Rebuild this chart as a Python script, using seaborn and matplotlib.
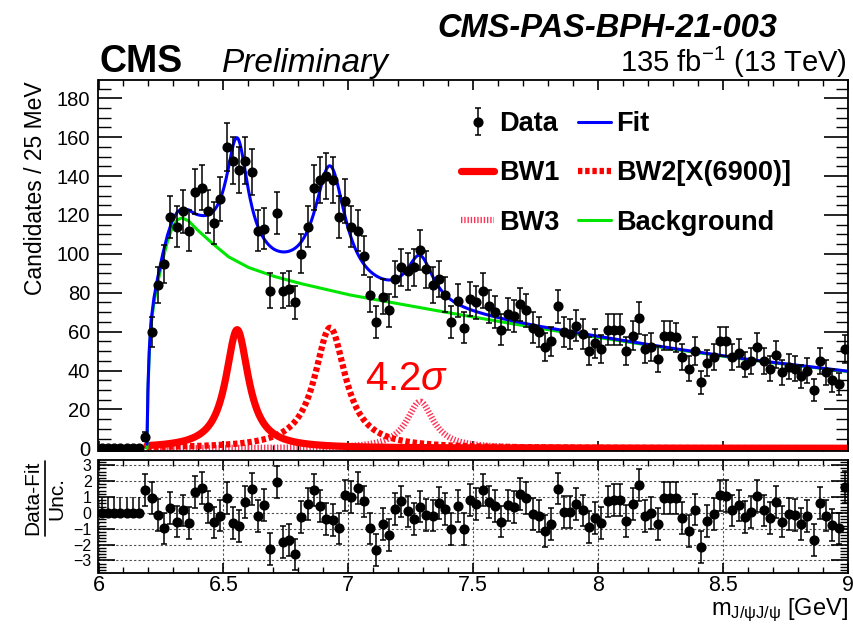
import numpy as np
import pandas as pd
import matplotlib
matplotlib.use("Agg")
import matplotlib.pyplot as plt
from matplotlib.lines import Line2D
from matplotlib.ticker import MultipleLocator, FuncFormatter
import seaborn as sns

# ---- values ----
bin_lo, bin_w = 6.0, 0.025          # 120 bins of 25 MeV from 6 to 9 GeV
n_empty = 7                          # bins below the J/psi J/psi threshold

counts = [0, 0, 0, 0, 0, 0, 0, 6, 60, 84,
          95, 119, 114, 122, 112, 132, 134, 122, 116, 128,
          155, 148, 143, 148, 142, 112, 113, 81, 121, 81,
          82, 75, 100, 114, 134, 138, 140, 138, 119, 127,
          114, 112, 99, 79, 65, 78, 71, 87, 93, 91,
          93, 102, 92, 84, 87, 79, 65, 76, 62, 77,
          75, 81, 73, 70, 61, 69, 68, 74, 71, 62,
          60, 52, 55, 73, 60, 59, 63, 59, 50, 54,
          51, 61, 61, 61, 50, 58, 67, 51, 52, 46,
          58, 58, 57, 47, 41, 50, 34, 44, 47, 55,
          55, 47, 49, 43, 45, 52, 45, 41, 48, 39,
          42, 41, 37, 40, 30, 45, 39, 35, 33, 51]

pulls = [0, 0, 0, 0, 0, 0, 0, 1.43, 0.94, -0.13,
         -0.98, 0.30, -0.55, 0.15, -0.66, 1.32, 1.57, 0.36, -0.60, -0.17,
         0.94, -0.64, -0.85, 0.68, 1.49, -0.21, 0.51, -2.26, 1.96, -1.83,
         -1.72, -2.62, -0.28, 0.57, 1.43, 0.43, -0.38, -0.45, -0.98, 1.10,
         1.02, 1.57, 0.72, -0.98, -2.34, -0.70, -1.40, 0.26, 0.72, 0.09,
         -0.38, 0.40, -0.13, -0.17, 0.62, 0.26, -1.02, 0.43, -1.02, 0.79,
         0.57, 1.43, 0.68, 0.43, -0.55, 0.47, 0.36, 1.21, 0.94, -0.06,
         -0.21, -1.13, -0.70, 1.53, 0.04, 0.04, 0.57, 0.15, -0.91, -0.34,
         -0.64, 0.72, 0.79, 0.83, -0.49, 0.57, 1.74, -0.21, 0.00, -0.70,
         0.94, 0.94, 0.94, -0.34, -1.13, 0.21, -2.13, -0.49, -0.06, 1.10,
         1.04, 0.15, 0.47, -0.28, 0.04, 1.06, 0.15, -0.34, 0.68, -0.55,
         -0.06, -0.13, -0.70, -0.21, -1.72, 0.64, -0.17, -0.77, -0.98, 1.64]

# background curve, read at these masses
bg_mass = [6.194, 6.198, 6.203, 6.21, 6.222, 6.235, 6.255, 6.275, 6.295, 6.315,
           6.335, 6.36, 6.39, 6.45, 6.52, 6.6, 6.7, 6.8, 6.9, 7.0,
           7.15, 7.3, 7.5, 7.75, 8.0, 8.3, 8.6, 9.0]
bg_vals = [0, 30, 48, 63, 75, 84, 96, 106, 113.5, 117.5,
           118.5, 117, 113, 106, 98.5, 93, 88.5, 85, 82, 79,
           75.5, 72, 67.5, 62, 57, 51, 45.5, 39.5]

# Breit-Wigner components: mass, width (GeV) and peak height
bw_names = ["BW1", "BW2[X(6900)]", "BW3"]
bw_mass = [6.555, 6.927, 7.287]
bw_width = [0.11, 0.15, 0.13]
bw_peak = [61, 62, 24]

centers = bin_lo + bin_w * (np.arange(len(counts)) + 0.5)
counts = np.array(counts, dtype=float)
pulls = np.array(pulls)

grid = np.linspace(bg_mass[0], 9.0, 1500)
curves = pd.DataFrame({"m": grid, "Background": np.interp(grid, bg_mass, bg_vals)})
for name, m0, g, p in zip(bw_names, bw_mass, bw_width, bw_peak):
    curves[name] = p / (1.0 + ((grid - m0) / (g / 2.0)) ** 2)
curves["Fit"] = curves["Background"] + curves[bw_names].sum(axis=1)

# ---- style ----
sns.set_theme(style="ticks")
plt.rcParams["font.family"] = ["Liberation Sans", "DejaVu Sans"]
plt.rcParams["mathtext.fontset"] = "custom"
plt.rcParams["mathtext.rm"] = "Liberation Sans"
plt.rcParams["mathtext.it"] = "Liberation Sans:italic"
plt.rcParams["mathtext.bf"] = "Liberation Sans:bold"
plt.rcParams["axes.linewidth"] = 1.3
for key in ["text.color", "axes.labelcolor", "axes.edgecolor", "xtick.color", "ytick.color"]:
    plt.rcParams[key] = "black"

W, H = 854, 624
fig = plt.figure(figsize=(W / 100, H / 100), dpi=100)
xl, xr = 98.5, 848
ax = fig.add_axes([xl / W, 1 - 451 / H, (xr - xl) / W, (451 - 80) / H])
rx = fig.add_axes([xl / W, 1 - 572.7 / H, (xr - xl) / W, (572.7 - 460) / H])

# ---- main panel ----
styles = {
    "BW3": dict(color="#ff3355", linewidth=4.5, linestyle=(0, (0.22, 0.3))),
    "BW2[X(6900)]": dict(color="#ff0000", linewidth=4.5, linestyle=(0, (0.7, 0.45))),
    "BW1": dict(color="#ff0000", linewidth=5.2, linestyle="-"),
    "Background": dict(color="#00e600", linewidth=2.2, linestyle="-"),
    "Fit": dict(color="#0000ff", linewidth=2.2, linestyle="-"),
}
handles = {}
for name in ["BW3", "BW2[X(6900)]", "BW1", "Background", "Fit"]:
    sns.lineplot(data=curves, x="m", y=name, ax=ax, errorbar=None, **styles[name])
    handles[name] = ax.lines[-1]

data_h = ax.errorbar(centers[n_empty:], counts[n_empty:], yerr=np.sqrt(counts[n_empty:]),
                     fmt="o", color="black", ms=6.3, elinewidth=1.1, capsize=2,
                     capthick=1.1, zorder=5)
ax.plot(centers[:n_empty], counts[:n_empty], "o", color="black", ms=6.3, zorder=5)

ax.text(7.067, 30, r"4.2$\sigma$", color="#ff0000", fontsize=29, ha="left", va="baseline")

ax.set_xlim(6, 9)
ax.set_ylim(-1.39, 189.4)
ax.set_xlabel("")
ax.set_ylabel("")
ax.xaxis.set_major_locator(MultipleLocator(0.5))
ax.xaxis.set_minor_locator(MultipleLocator(0.1))
ax.yaxis.set_major_locator(MultipleLocator(20))
ax.yaxis.set_minor_locator(MultipleLocator(5))
ax.tick_params(which="both", direction="in", top=True, right=True, labelbottom=False)
ax.tick_params(axis="y", which="major", length=17, width=1.2, labelsize=14.5, pad=6)
ax.tick_params(axis="y", which="minor", length=9, width=1.0)
ax.tick_params(axis="x", which="major", length=7, width=1.2)
ax.tick_params(axis="x", which="minor", length=4, width=1.0)

order = ["Data", "BW1", "BW3", "Fit", "BW2[X(6900)]", "Background"]
hmap = dict(handles, Data=data_h)
ax.legend([hmap[k] for k in order], order, ncol=2, loc="upper left",
          bbox_to_anchor=(461 / W, 1 - 111 / H), bbox_transform=fig.transFigure,
          frameon=False, prop={"weight": "bold", "size": 19.5},
          handlelength=1.22, handletextpad=0.19, columnspacing=0.67,
          labelspacing=0.86, borderpad=0, borderaxespad=0)

# ---- pull panel ----
rx.errorbar(centers[n_empty:], pulls[n_empty:], yerr=1.0, fmt="o", color="black",
            ms=6.3, elinewidth=1.1, capsize=2, capthick=1.1, zorder=5)
rx.errorbar(centers[:n_empty], pulls[:n_empty],
            yerr=[np.zeros(n_empty), np.ones(n_empty)], fmt="o", color="black",
            ms=6.3, elinewidth=1.1, capsize=0, zorder=5)
rx.set_xlim(6, 9)
rx.set_ylim(-3.77, 3.33)
rx.xaxis.set_major_locator(MultipleLocator(0.5))
rx.xaxis.set_minor_locator(MultipleLocator(0.1))
rx.yaxis.set_major_locator(MultipleLocator(1))
rx.yaxis.set_minor_locator(MultipleLocator(0.2))
rx.xaxis.set_major_formatter(FuncFormatter(lambda v, p: "%g" % v))
rx.grid(True, which="major", color="0.3", linestyle=(0, (2, 2)), linewidth=0.8)
rx.tick_params(which="both", direction="in", top=True, right=True)
rx.tick_params(axis="y", which="major", length=12, width=1.2, labelsize=11.5, pad=5)
rx.tick_params(axis="y", which="minor", length=6, width=1.0)
rx.tick_params(axis="x", which="major", length=7, width=1.2, labelsize=15.5, pad=2)
rx.tick_params(axis="x", which="minor", length=4, width=1.0)

# ---- labels and header ----
fig.text(777 / W, 1 - 37 / H, "CMS-PAS-BPH-21-003", ha="right", va="baseline",
         fontsize=23.5, fontweight="bold", fontstyle="italic")
fig.text(100 / W, 1 - 72 / H, "CMS", ha="left", va="baseline", fontsize=27,
         fontweight="bold")
fig.text(222 / W, 1 - 72 / H, "Preliminary", ha="left", va="baseline", fontsize=24,
         fontstyle="italic")
fig.text(847 / W, 1 - 72 / H, r"135 fb$^{-1}$ (13 TeV)", ha="right", va="baseline",
         fontsize=21)
fig.text(36 / W, 1 - 81 / H, "Candidates / 25 MeV", rotation=90, ha="center",
         va="top", fontsize=16.5)
fig.text(848 / W, 1 - 615 / H, r"m$_{\mathrm{J/\psi J/\psi}}$ [GeV]", ha="right",
         va="baseline", fontsize=17)

fig.text(33 / W, 1 - 498 / H, "Data-Fit", rotation=90, ha="center", va="center",
         fontsize=15)
fig.text(57 / W, 1 - 498 / H, "Unc.", rotation=90, ha="center", va="center",
         fontsize=15)
fig.add_artist(Line2D([45 / W, 45 / W], [1 - 461 / H, 1 - 536 / H], color="black",
                      linewidth=1.2, transform=fig.transFigure))

fig.savefig("out.png", dpi=100)
